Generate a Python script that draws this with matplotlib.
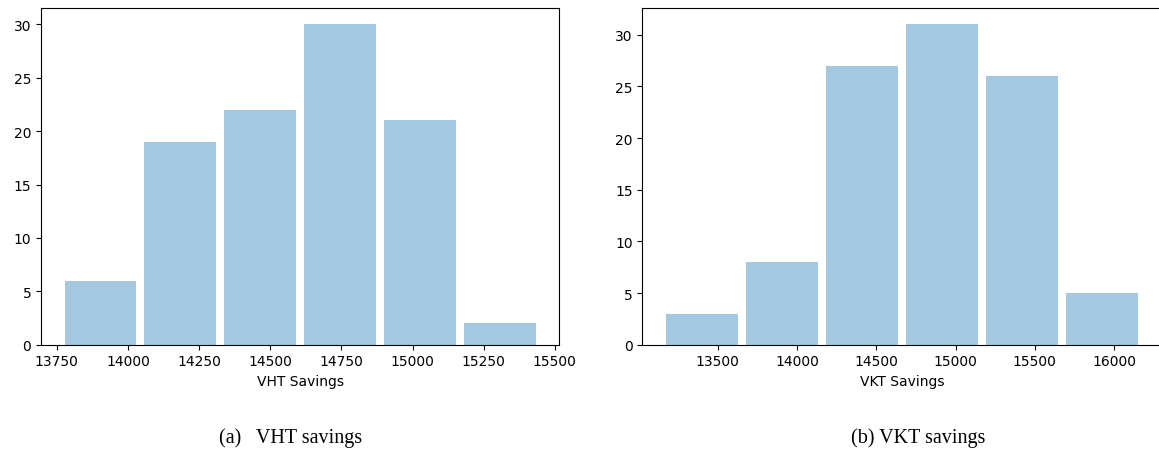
import numpy as np
import matplotlib
matplotlib.use('Agg')
import matplotlib.pyplot as plt

# bin edges and counts of the two savings histograms
vht_edges = np.linspace(13763, 15447, 7)
vht_counts = [6, 19, 22, 30, 21, 2]

vkt_edges = np.linspace(13148, 16174, 7)
vkt_counts = [3, 8, 27, 31, 26, 5]

fig = plt.figure(figsize=(11.59, 4.56), dpi=100)
W, H = 1159, 456

ax1 = fig.add_axes([41 / W, 1 - 345.7 / H, 518.3 / W, 336.4 / H])
ax2 = fig.add_axes([642.3 / W, 1 - 345.7 / H, 519 / W, 336.4 / H])

for ax, edges, counts, label in [(ax1, vht_edges, vht_counts, 'VHT Savings'),
                                 (ax2, vkt_edges, vkt_counts, 'VKT Savings')]:
    centers = (edges[:-1] + edges[1:]) / 2
    ax.hist(centers, bins=edges, weights=counts, rwidth=0.9,
            color='C0', alpha=0.4)
    ax.set_xlabel(label)

ax1.set_xticks([13750, 14000, 14250, 14500, 14750, 15000, 15250, 15500])
ax2.set_xticks([13500, 14000, 14500, 15000, 15500, 16000])

fig.text(291 / W, 1 - 438 / H, '(a)   VHT savings', ha='center', va='center',
         family='Liberation Serif', fontsize=14.5)
fig.text(918 / W, 1 - 438 / H, '(b) VKT savings', ha='center', va='center',
         family='Liberation Serif', fontsize=14.5)

fig.savefig('out.png', dpi=100)
